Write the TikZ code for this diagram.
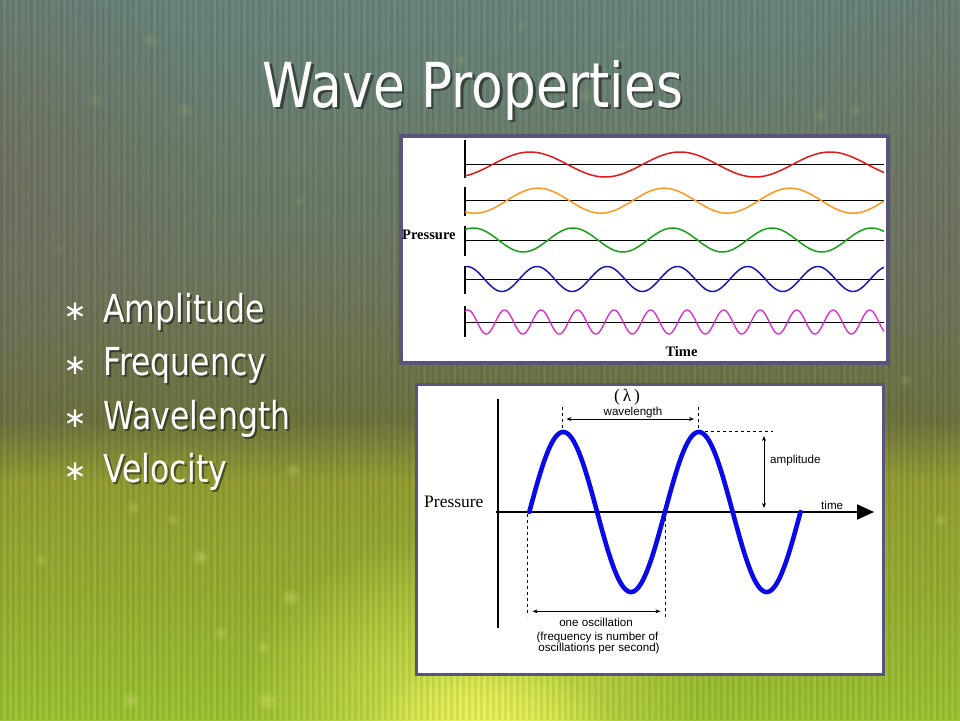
\documentclass[tikz,border=0pt]{standalone}
\usepackage{fontspec}
\usepackage{graphicx}
\usetikzlibrary{arrows.meta,fadings}
\newfontfamily\tahoma{DejaVu Sans}
\newfontfamily\symf{DejaVu Sans}
\newfontfamily\tnr{Liberation Serif}
\newfontfamily\arial{Liberation Sans}
\definecolor{bgA}{RGB}{104,134,124}
\definecolor{bgB}{RGB}{110,120,94}
\definecolor{bgC}{RGB}{110,116,62}
\definecolor{bgD}{RGB}{148,158,50}
\definecolor{bgE}{RGB}{150,176,48}
\definecolor{bgF}{RGB}{158,196,50}
\definecolor{edgeC}{RGB}{118,108,92}
\definecolor{glowY}{RGB}{240,248,90}
\definecolor{bokeh}{RGB}{210,225,110}
\definecolor{panelB}{RGB}{88,84,124}
\definecolor{wRed}{RGB}{228,24,24}
\definecolor{wOrange}{RGB}{255,150,30}
\definecolor{wGreen}{RGB}{24,160,24}
\definecolor{wBlue}{RGB}{24,24,180}
\definecolor{wMag}{RGB}{220,40,200}
\definecolor{bigBlue}{RGB}{10,10,232}
\tikzfading[name=glowfade, inner color=transparent!0, outer color=transparent!100]
\begin{document}
\begin{tikzpicture}[x=1pt,y=-1pt,
  titletext/.style={anchor=base, inner sep=0, text=white, font=\tahoma\fontsize{62}{70}\selectfont},
  titleshadow/.style={titletext, text=black, opacity=0.45},
  bullettext/.style={anchor=base west, inner sep=0, text=white, font=\tahoma\fontsize{38.5}{44}\selectfont},
  bulletshadow/.style={bullettext, text=black, opacity=0.45},
  bulletmark/.style={inner sep=0, text=white, font=\symf\fontsize{28}{28}\selectfont},
  panel/.style={draw=panelB, line width=3.6pt, fill=white, anchor=north west, inner sep=0},
  rowbar/.style={line width=2pt, black},
  rowline/.style={line width=1pt, black},
  wave/.style={line width=1.5pt, line join=round},
  axis2/.style={line width=2pt, black},
  dash2/.style={line width=0.9pt, dash pattern=on 3pt off 3pt, black},
  dim2/.style={line width=0.9pt, black, {Stealth[length=5pt,width=4pt]}-{Stealth[length=5pt,width=4pt]}},
  lab1/.style={inner sep=0, font=\tnr\bfseries\fontsize{14.5}{15}\selectfont},
  lab2/.style={inner sep=0, font=\arial\fontsize{11.6}{13}\selectfont},
  lab2s/.style={inner sep=0, font=\tnr\fontsize{17.5}{18}\selectfont}
]
\useasboundingbox (0,0) rectangle (960,720);
% ---------- background ----------
\shade[top color=bgA, bottom color=bgB] (0,0) rectangle (960,280.5);
\shade[top color=bgB, bottom color=bgC] (0,280) rectangle (960,420.5);
\shade[top color=bgC, bottom color=bgD] (0,420) rectangle (960,480.5);
\shade[top color=bgD, bottom color=bgE] (0,480) rectangle (960,600.5);
\shade[top color=bgE, bottom color=bgF] (0,600) rectangle (960,720);
\fill[edgeC, opacity=0.55, path fading=glowfade] (-20,180) ellipse (230 and 300);
\fill[edgeC, opacity=0.45, path fading=glowfade] (990,160) ellipse (210 and 280);
\fill[glowY, opacity=0.7, path fading=glowfade] (470,700) ellipse (230 and 170);
\fill[glowY, opacity=1, path fading=glowfade] (490,735) ellipse (130 and 75);
\foreach \i in {0,...,159} {
  \fill[black, opacity=0.07] ({\i*6},0) rectangle ({\i*6+2.5},720);
}
\foreach \i in {0,...,95} {
  \fill[white, opacity=0.035] ({\i*10+4},0) rectangle ({\i*10+6},720);
}
\foreach \bx/\by/\br/\op in {200/557/9/0.45, 290/597/10/0.45, 220/633/8/0.4, 267/700/11/0.5, 130/700/10/0.45, 293/470/8/0.35, 133/507/8/0.3, 173/520/7/0.3, 263/647/8/0.4, 150/40/9/0.15, 95/100/8/0.15, 185/110/9/0.15, 460/60/8/0.15, 585/95/8/0.15, 520/25/7/0.12, 820/115/8/0.15, 855/110/7/0.15, 60/250/6/0.12, 300/200/6/0.12, 620/45/6/0.12, 905/380/7/0.2, 940/520/8/0.3, 40/560/7/0.3}
{
  \fill[bokeh, opacity=\op, path fading=glowfade] (\bx,\by) circle (\br);
}
% ---------- title ----------
\node[titleshadow] (titleS) at (475.5,109.5) {\scalebox{0.835}[1]{Wave Properties}};
\node[titletext] (title) at (473,107) {\scalebox{0.835}[1]{Wave Properties}};
% ---------- bullets ----------
\foreach \nm/\yy/\txt in {b1/322/Amplitude, b2/375.5/Frequency, b3/429/Wavelength, b4/482/Velocity}
{
  \node[bulletshadow] (\nm s) at (105,\yy+2) {\scalebox{0.82}[1]{\txt}};
  \node[bullettext] (\nm) at (103,\yy) {\scalebox{0.82}[1]{\txt}};
  \node[bulletmark] (\nm m) at (75,\yy-10) {∗};
}
% ---------- panel 1 ----------
\node[panel, minimum width=487pt, minimum height=227pt] (p1) at (399,134) {};
\node[lab1, anchor=base west] (p1pres) at (402,239) {Pressure};
\node[lab1, anchor=base] (p1time) at (681.5,356) {Time};
\foreach \nm/\c/\t/\b in {r1/164.5/140/178, r2/200.7/187/216, r3/240/226/256, r4/279/266/294, r5/322/306/337}
{
  \coordinate (\nm top) at (465,\t);
  \coordinate (\nm bot) at (465,\b);
  \coordinate (\nm l) at (465,\c);
  \coordinate (\nm r) at (884,\c);
  \draw[rowbar] (\nm top) -- (\nm bot);
  \draw[rowline] (\nm l) -- (\nm r);
}
\draw[wave, wRed] plot[domain=465:884, samples=220] (\x, {164.5-12.5*cos(2.4*(\x-530))});
\draw[wave, wOrange] plot[domain=465:884, samples=220] (\x, {200.7-12.5*cos(2.857*(\x-538))});
\draw[wave, wGreen] plot[domain=465:884, samples=240] (\x, {240-12*cos(3.618*(\x-573))});
\draw[wave, wBlue] plot[domain=465:884, samples=280] (\x, {279-12.5*cos(5.128*(\x-537))});
\draw[wave, wMag, line width=1.3pt] plot[domain=465:884, samples=400] (\x, {322-12*cos(9.858*(\x-468))});
% ---------- panel 2 ----------
\node[panel, minimum width=467pt, minimum height=290pt, line width=3.4pt] (p2) at (414.5,383) {};
\coordinate (yTop) at (497.7,399);
\coordinate (yBot) at (497.7,628);
\coordinate (xL) at (496,512);
\coordinate (xR) at (874,512);
\draw[axis2] (yTop) -- (yBot);
\draw[axis2, -{Triangle[length=17pt,width=15pt]}] (xL) -- (xR);
\draw[bigBlue, line width=4.6pt, line cap=round, line join=round]
  plot[domain=529.3:800.5, samples=240] (\x, {512-80*sin(2.6549*(\x-529.3))});
% wavelength
\coordinate (pk1a) at (562.7,407); \coordinate (pk1b) at (562.7,430);
\coordinate (pk2a) at (698.3,407); \coordinate (pk2b) at (698.3,430);
\draw[dash2] (pk1a) -- (pk1b);
\draw[dash2] (pk2a) -- (pk2b);
\coordinate (wlL) at (566.5,419);
\coordinate (wlR) at (694,419);
\draw[dim2] (wlL) -- (wlR);
\node[lab2, anchor=base] (wllab) at (633,415.5) {wavelength};
\node[lab2s, anchor=base] (lam) at (627,401) {(\,λ\,)};
% amplitude
\coordinate (amA) at (705,431);
\coordinate (amB) at (773,431);
\draw[dash2] (amA) -- (amB);
\coordinate (amTop) at (764,436);
\coordinate (amBot) at (764,508);
\draw[dim2] (amTop) -- (amBot);
\node[lab2, anchor=base west] (amlab) at (770,463.7) {amplitude};
\node[lab2, anchor=base west] (timelab) at (821,509) {time};
\node[lab2s, anchor=base west] (p2pres) at (424,507.5) {Pressure};
% one oscillation
\coordinate (osA1) at (527.7,514); \coordinate (osA2) at (527.7,616);
\coordinate (osB1) at (665,518); \coordinate (osB2) at (665,618);
\draw[dash2] (osA1) -- (osA2);
\draw[dash2] (osB1) -- (osB2);
\coordinate (osL) at (532.5,611.3);
\coordinate (osR) at (660.5,611.3);
\draw[dim2] (osL) -- (osR);
\node[lab2, anchor=base] (os1) at (596,626.5) {one oscillation};
\node[lab2, anchor=base] (os2) at (597.5,640.5) {(frequency is number of};
\node[lab2, anchor=base] (os3) at (599,651.5) {oscillations per second)};
\end{tikzpicture}
\end{document}
